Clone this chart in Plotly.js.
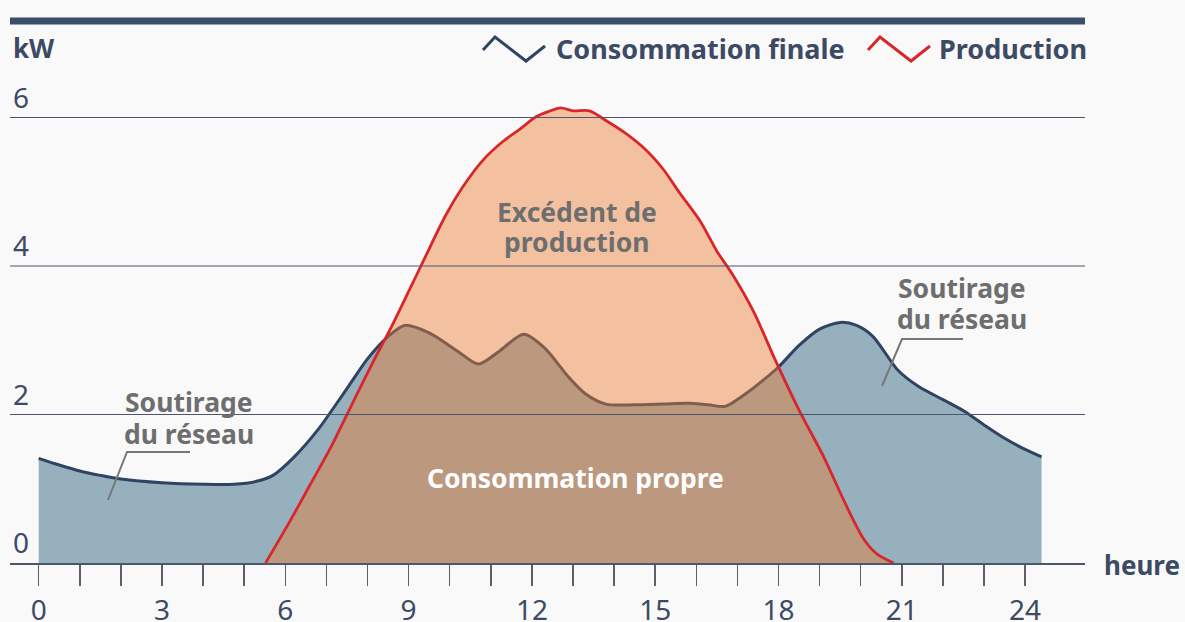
<!DOCTYPE html>
<html>
<head>
<meta charset="utf-8">
<script src="https://cdn.plot.ly/plotly-3.0.1.min.js"></script>
<style>
html,body{margin:0;padding:0;background:#f9f9f9;}
#chart{width:1185px;height:622px;}
</style>
</head>
<body>
<div id="chart"></div>
<script>
// ---- data ----
const consHours = [0,0.5,1,1.5,2,3,4,4.75,5.3,5.7,6.2,6.8,7.5,8,8.5,8.9,9.5,10.2,10.7,11.2,11.8,12.3,12.9,13.3,13.8,14.5,15.2,15.8,16.3,16.7,17.2,17.6,18,18.5,19,19.5,19.9,20.3,20.9,21.4,22,22.5,23,23.5,24,24.4];
const consKW    = [1.41,1.32,1.24,1.18,1.13,1.08,1.06,1.06,1.1,1.18,1.42,1.8,2.35,2.75,3.05,3.2,3.1,2.85,2.68,2.85,3.08,2.9,2.5,2.28,2.14,2.13,2.14,2.15,2.13,2.11,2.28,2.45,2.64,2.93,3.15,3.24,3.2,3.05,2.6,2.38,2.2,2.05,1.86,1.68,1.53,1.43];
const prodHours = [5.52,6.1,6.6,7.1,7.5,8.1,8.6,9.3,9.9,10.3,10.8,11.3,11.7,12.1,12.4,12.7,13.0,13.4,13.8,14.3,14.8,15.2,15.6,16.1,16.5,16.9,17.4,17.9,18.5,19.1,19.5,19.8,20.1,20.4,20.8];
const prodKW    = [0,0.55,1.05,1.55,2.0,2.67,3.2,4.0,4.68,5.05,5.42,5.68,5.84,6.01,6.08,6.13,6.09,6.09,5.96,5.78,5.55,5.3,4.98,4.6,4.2,3.87,3.38,2.76,2.06,1.43,0.95,0.6,0.3,0.12,0];
const hourTicks = [0,1,2,3,4,5,6,7,8,9,10,11,12,13,14,15,16,17,18,19,20,21,22,23,24];
const hourLabels = ["0","","","3","","","6","","","9","","","12","","","15","","","18","","","21","","","24"];
const yTickVals = [0,2,4,6];
const yTickLabels = ["0","2","4","6"];
const seriesNames = ["Consommation finale","Production"];
const labels = {
  unit: "kW", xunit: "heure",
  surplus: ["Excédent de", "production"],
  own: "Consommation propre",
  grid: ["Soutirage", "du réseau"]
};

// ---- layout helpers (pixel -> paper) ----
const M = {l:10, r:100, t:21, b:59};
const W = 1185, H = 622;
const PW = W - M.l - M.r, PH = H - M.t - M.b;
const X = px => (px - M.l) / PW;
const Y = py => (H - M.b - py) / PH;

const navy = "#2f4462", red = "#d8262a", txt = "#3d4a63", grey = "#6e6e6e";
const FONT = "Noto Sans, Open Sans, sans-serif";

const traces = [
  {x: consHours, y: consKW, type: "scatter", mode: "lines", name: seriesNames[0],
   fill: "tozeroy", fillcolor: "#96b0be",
   line: {color: navy, width: 3, shape: "spline", smoothing: 0.8}, showlegend: false, hoverinfo: "skip"},
  {x: prodHours, y: prodKW, type: "scatter", mode: "lines", name: seriesNames[1],
   fill: "tozeroy", fillcolor: "rgba(236,124,50,0.45)",
   line: {color: red, width: 2.8, shape: "spline", smoothing: 0.8}, showlegend: false, hoverinfo: "skip"}
];

const shapes = [];
// top bar
shapes.push({type: "line", xref: "paper", yref: "paper", x0: 0, x1: 1, y0: Y(21), y1: Y(21),
  line: {color: "#3a4d6a", width: 7}, layer: "above"});
// gridlines above fills
[2,4,6].forEach(v => shapes.push({type: "line", xref: "paper", yref: "y", x0: 0, x1: 1, y0: v, y1: v,
  line: {color: "#4d566b", width: 1.2}, layer: "above"}));
// legend icons
function zig(x0, col) {
  const pts = [[x0,50],[x0+12,37],[x0+43,61],[x0+62,46]];
  return {type: "path", xref: "paper", yref: "paper",
    path: "M" + pts.map(p => X(p[0]) + "," + Y(p[1])).join(" L"),
    line: {color: col, width: 3}, layer: "above"};
}
shapes.push(zig(483, navy));
shapes.push(zig(868, red));
// leader lines
function leader(pts) {
  return {type: "path", xref: "paper", yref: "paper",
    path: "M" + pts.map(p => X(p[0]) + "," + Y(p[1])).join(" L"),
    line: {color: "#777777", width: 2}, layer: "above"};
}
shapes.push(leader([[190,452],[127,452],[108,500]]));
shapes.push(leader([[963,339],[902,339],[882,386]]));

const ann = (text, px, py, size, color, bold, xanchor) => ({
  text: bold ? "<b>" + text + "</b>" : text, xref: "paper", yref: "paper",
  x: X(px), y: Y(py), xanchor: xanchor || "center", yanchor: "middle",
  showarrow: false, font: {family: FONT, size: size, color: color}, align: "center"
});

const annotations = [
  ann(labels.unit, 11, 48, 26, txt, true, "left"),
  ann(seriesNames[0], 554, 48, 27, txt, true, "left"),
  ann(seriesNames[1], 937, 48, 27, txt, true, "left"),
  ann(labels.xunit, 1102, 565, 26, txt, true, "left"),
  ann(labels.surplus[0], 577, 212, 26.5, grey, true),
  ann(labels.surplus[1], 577, 242, 26.5, grey, true),
  ann(labels.own, 575, 478, 26.5, "#ffffff", true),
  ann(labels.grid[0], 189, 402, 26.5, grey, true),
  ann(labels.grid[1], 189, 434, 26.5, grey, true),
  ann(labels.grid[0], 962, 288, 26.5, grey, true),
  ann(labels.grid[1], 962, 319, 26.5, grey, true)
];

const layout = {
  width: W, height: H, margin: M,
  paper_bgcolor: "#f9f9f9", plot_bgcolor: "#f9f9f9",
  font: {family: FONT, color: txt},
  showlegend: false,
  xaxis: {range: [-0.698, 25.457], tickvals: hourTicks, ticktext: hourLabels,
    showgrid: false, zeroline: false, showline: true, linecolor: "#4d566b", linewidth: 2,
    ticks: "outside", ticklen: 21, tickwidth: 1.5, tickcolor: "#5a5f6b",
    tickfont: {family: FONT, size: 28, color: txt}, ticklabelstandoff: 0,
    fixedrange: true, layer: "above traces"},
  yaxis: {range: [0, 7.30], tickvals: yTickVals, ticktext: yTickLabels,
    showgrid: false, zeroline: false, showline: false, ticks: "",
    ticklabelposition: "inside top", tickfont: {family: FONT, size: 28, color: txt},
    fixedrange: true},
  shapes: shapes,
  annotations: annotations
};

Plotly.newPlot("chart", traces, layout, {staticPlot: true, displayModeBar: false});
</script>
</body>
</html>
